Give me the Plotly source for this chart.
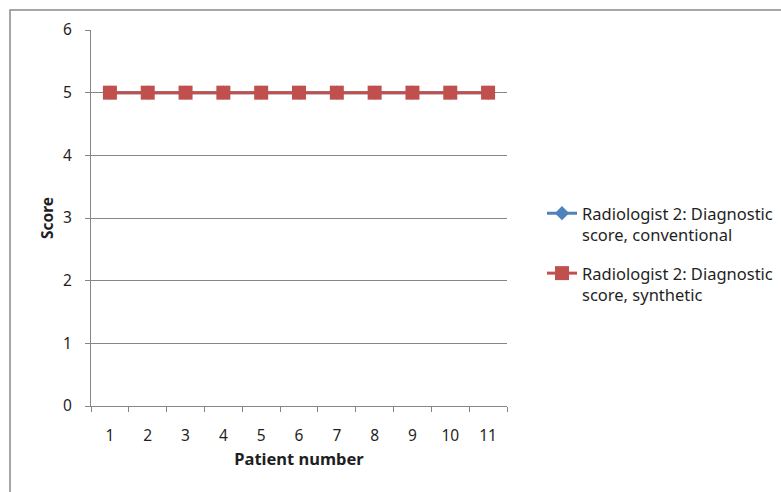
import plotly.graph_objects as go

# Patient scores for radiologist 2
patients = [1, 2, 3, 4, 5, 6, 7, 8, 9, 10, 11]
score_conventional = [5, 5, 5, 5, 5, 5, 5, 5, 5, 5, 5]
score_synthetic = [5, 5, 5, 5, 5, 5, 5, 5, 5, 5, 5]
y_ticks = [0, 1, 2, 3, 4, 5, 6]

W, H = 781, 492
L, R, T, B = 91, 507, 30, 406  # plot area in pixels

FONT = "Noto Sans"
GRAY = "#868686"
TEXT = "#1f1f1f"

fig = go.Figure()
fig.add_trace(go.Scatter(
    x=patients, y=score_conventional, mode="lines+markers",
    name="Radiologist 2: Diagnostic<br>score, conventional", legendgroup="a",
    line=dict(color="#4F81BD", width=3),
    marker=dict(symbol="diamond", size=11, color="#4F81BD"),
))
fig.add_trace(go.Scatter(
    x=patients, y=score_synthetic, mode="lines+markers",
    name="Radiologist 2: Diagnostic<br>score, synthetic", legendgroup="b",
    line=dict(color="#C0504D", width=3),
    marker=dict(symbol="square", size=14, color="#C0504D"),
))

pw, ph = R - L, B - T
fig.add_shape(type="rect", xref="paper", yref="paper",
              x0=(10 - L) / pw, x1=(W + 20 - L) / pw,
              y0=(B - (H + 20)) / ph, y1=(B - 10) / ph,
              line=dict(color="#8a8a8a", width=1.5), layer="below")

fig.update_layout(
    width=W, height=H,
    margin=dict(l=L, r=W - R, t=T, b=H - B, autoexpand=False),
    paper_bgcolor="white", plot_bgcolor="white",
    font=dict(family=FONT, size=15, color=TEXT),
    showlegend=True,
    legend=dict(x=(542 - L) / pw, y=(B - 196) / ph, xanchor="left", yanchor="top",
                font=dict(family=FONT, size=16.5, color=TEXT), valign="top",
                tracegroupgap=14, bgcolor="rgba(0,0,0,0)"),
    xaxis=dict(
        range=[0.5, 11.5], tickmode="array", tickvals=patients,
        ticktext=[str(p) for p in patients], ticks="", showgrid=False,
        showline=True, linecolor=GRAY, linewidth=1, zeroline=False,
        ticklabelstandoff=15, tickfont=dict(family=FONT, size=15.5, color=TEXT),
        minor=dict(tick0=0.5, dtick=1, ticks="outside", ticklen=5,
                   tickcolor=GRAY, showgrid=False),
        title=dict(text="<b>Patient number</b>", font=dict(family=FONT, size=16.5), standoff=8),
        fixedrange=True,
    ),
    yaxis=dict(
        range=[0, 6], tickmode="array", tickvals=y_ticks, ticks="outside",
        ticklen=5, tickcolor=GRAY, showgrid=True, gridcolor=GRAY, gridwidth=1,
        showline=True, linecolor=GRAY, linewidth=1, zeroline=False,
        ticklabelstandoff=10, tickfont=dict(family=FONT, size=15.5, color=TEXT),
        title=dict(text="<b>Score</b>", font=dict(family=FONT, size=15.5), standoff=5),
        fixedrange=True,
    ),
)

fig.write_html("out.html")
